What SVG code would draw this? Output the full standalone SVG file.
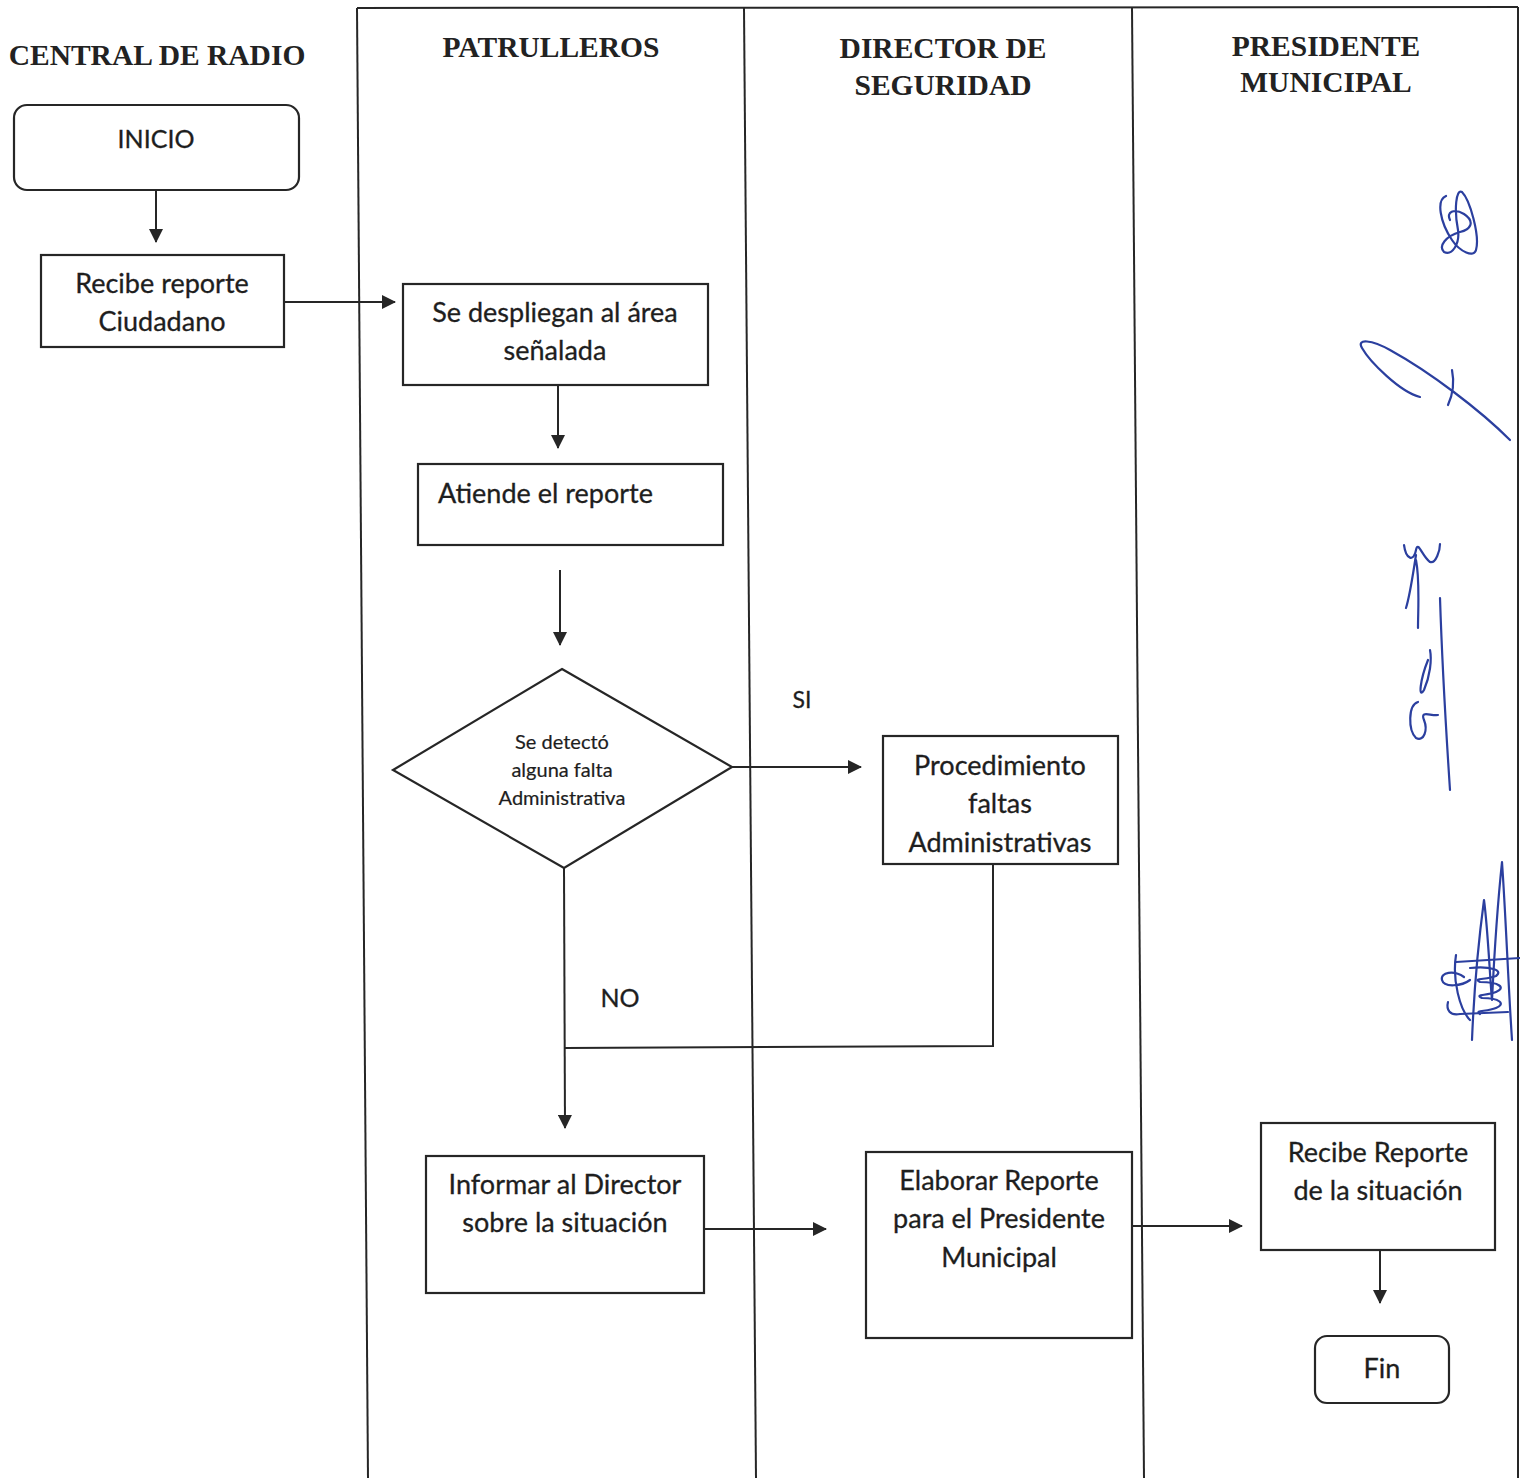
<svg xmlns="http://www.w3.org/2000/svg" width="1520" height="1478" viewBox="0 0 1520 1478">
<defs>
<style>
.lane{fill:none;stroke:#262626;stroke-width:2}
.box{fill:#fff;stroke:#262626;stroke-width:2.2}
.hdr{font-family:"Liberation Serif",serif;font-weight:bold;font-size:29.5px;fill:#222;text-anchor:middle}
.t{font-family:Lato,"Open Sans",sans-serif;font-size:27px;fill:#1e1e1e;text-anchor:middle;stroke:#1e1e1e;stroke-width:0.3}
.ts{font-family:Lato,"Open Sans",sans-serif;font-size:20px;fill:#1e1e1e;text-anchor:middle;stroke:#1e1e1e;stroke-width:0.2}
.conn{fill:none;stroke:#262626;stroke-width:2}
.sig{fill:none;stroke:#2b3f9f;stroke-width:2.2;stroke-linecap:round;stroke-linejoin:round}
</style>
<marker id="ah" viewBox="0 0 14 14" refX="13" refY="7" markerWidth="14" markerHeight="14" markerUnits="userSpaceOnUse" orient="auto">
<path d="M0,0 L14,7 L0,14 z" fill="#262626"/>
</marker>
</defs>
<rect width="1520" height="1478" fill="#fff"/>

<g id="lanes">
<path class="lane" d="M357,8 L1518,7"/>
<path class="lane" d="M357,8 L368,1478"/>
<path class="lane" d="M744,8 L756,1478"/>
<path class="lane" d="M1132,8 L1144,1478"/>
<path class="lane" d="M1518,7 L1518,1478"/>
<text class="hdr" x="157" y="65">CENTRAL DE RADIO</text>
<text class="hdr" x="551" y="57">PATRULLEROS</text>
<text class="hdr" x="943" y="58">DIRECTOR DE</text>
<text class="hdr" x="943" y="95">SEGURIDAD</text>
<text class="hdr" x="1326" y="56">PRESIDENTE</text>
<text class="hdr" x="1326" y="92">MUNICIPAL</text>
</g>

<g id="connectors">
<path class="conn" d="M156,190 L156,242" marker-end="url(#ah)"/>
<path class="conn" d="M284,302 L395,302" marker-end="url(#ah)"/>
<path class="conn" d="M558,385 L558,448" marker-end="url(#ah)"/>
<path class="conn" d="M560,570 L560,645" marker-end="url(#ah)"/>
<path class="conn" d="M732,767 L861,767" marker-end="url(#ah)"/>
<path class="conn" d="M564,868 L565,1128" marker-end="url(#ah)"/>
<path class="conn" d="M993,864 L993,1046 L565,1048"/>
<path class="conn" d="M704,1229 L826,1229" marker-end="url(#ah)"/>
<path class="conn" d="M1132,1226 L1242,1226" marker-end="url(#ah)"/>
<path class="conn" d="M1380,1250 L1380,1303" marker-end="url(#ah)"/>
<text class="t" x="802" y="708" style="font-size:23px">SI</text>
<text class="t" x="620" y="1007" style="font-size:25px">NO</text>
</g>

<g id="inicio">
<rect class="box" x="14" y="105" width="285" height="85" rx="13"/>
<text class="t" x="156" y="148" style="font-size:25px">INICIO</text>
</g>

<g id="recibe-reporte">
<rect class="box" x="41" y="255" width="243" height="92"/>
<text class="t" x="162" y="293">Recibe reporte</text>
<text class="t" x="162" y="331">Ciudadano</text>
</g>

<g id="se-despliegan">
<rect class="box" x="403" y="284" width="305" height="101"/>
<text class="t" x="555" y="322">Se despliegan al área</text>
<text class="t" x="555" y="360">señalada</text>
</g>

<g id="atiende">
<rect class="box" x="418" y="464" width="305" height="81"/>
<text class="t" x="438" y="503" style="text-anchor:start">Atiende el reporte</text>
</g>

<g id="decision">
<path class="box" d="M562,669 L732,767 L564,868 L393,770 Z"/>
<text class="ts" x="562" y="749">Se detectó</text>
<text class="ts" x="562" y="777">alguna falta</text>
<text class="ts" x="562" y="805">Administrativa</text>
</g>

<g id="procedimiento">
<rect class="box" x="883" y="736" width="235" height="128"/>
<text class="t" x="1000" y="775">Procedimiento</text>
<text class="t" x="1000" y="813">faltas</text>
<text class="t" x="1000" y="852">Administrativas</text>
</g>

<g id="informar">
<rect class="box" x="426" y="1156" width="278" height="137"/>
<text class="t" x="565" y="1194">Informar al Director</text>
<text class="t" x="565" y="1232">sobre la situación</text>
</g>

<g id="elaborar">
<rect class="box" x="866" y="1152" width="266" height="186"/>
<text class="t" x="999" y="1190">Elaborar Reporte</text>
<text class="t" x="999" y="1228">para el Presidente</text>
<text class="t" x="999" y="1267">Municipal</text>
</g>

<g id="recibe-situacion">
<rect class="box" x="1261" y="1123" width="234" height="127"/>
<text class="t" x="1378" y="1162">Recibe Reporte</text>
<text class="t" x="1378" y="1200">de la situación</text>
</g>

<g id="fin">
<rect class="box" x="1315" y="1336" width="134" height="67" rx="12"/>
<text class="t" x="1382" y="1378">Fin</text>
</g>

<g id="signatures">
<path class="sig" d="M1446,196 C1436,200 1440,222 1452,240 C1460,252 1474,258 1476,250 C1480,236 1470,200 1462,192 C1456,188 1454,210 1458,230 C1460,244 1452,256 1444,252 C1438,246 1446,236 1460,232 C1470,230 1476,222 1464,214 C1454,208 1446,212 1450,220"/>
<path class="sig" d="M1420,397 C1400,392 1370,362 1362,348 C1356,338 1372,340 1390,350 C1430,372 1480,410 1510,440"/>
<path class="sig" d="M1452,370 C1454,380 1454,392 1448,405"/>
<path class="sig" d="M1404,545 C1406,560 1414,562 1416,550 C1418,540 1422,556 1430,562 C1436,564 1440,550 1440,544"/>
<path class="sig" d="M1416,555 C1412,580 1410,595 1406,608 M1416,560 C1420,580 1418,610 1418,628 M1440,598 C1442,660 1446,730 1450,790"/>
<path class="sig" d="M1428,660 C1420,680 1418,700 1424,690 C1430,676 1432,660 1430,650 M1418,702 C1408,705 1408,730 1416,738 C1424,742 1428,730 1424,720 C1420,710 1430,716 1438,715"/>
<path class="sig" d="M1472,1040 C1474,990 1480,930 1484,900 C1488,930 1490,980 1492,1000 C1494,960 1498,900 1502,862 C1506,920 1508,980 1512,1040"/>
<path class="sig" d="M1456,955 C1452,980 1460,1010 1470,1020"/>
<path class="sig" d="M1456,962 L1520,958"/>
<path class="sig" d="M1470,968 C1490,966 1504,970 1496,976 C1486,980 1472,978 1480,982 C1500,982 1506,988 1496,992 C1486,996 1474,994 1482,998 C1500,998 1506,1004 1496,1008 C1486,1012 1474,1010 1480,1014"/>
<path class="sig" d="M1464,977 C1454,970 1440,972 1442,980 C1444,988 1462,986 1470,980"/>
<path class="sig" d="M1448,1002 C1446,1010 1450,1016 1460,1014 L1508,1012"/>
</g>
</svg>
